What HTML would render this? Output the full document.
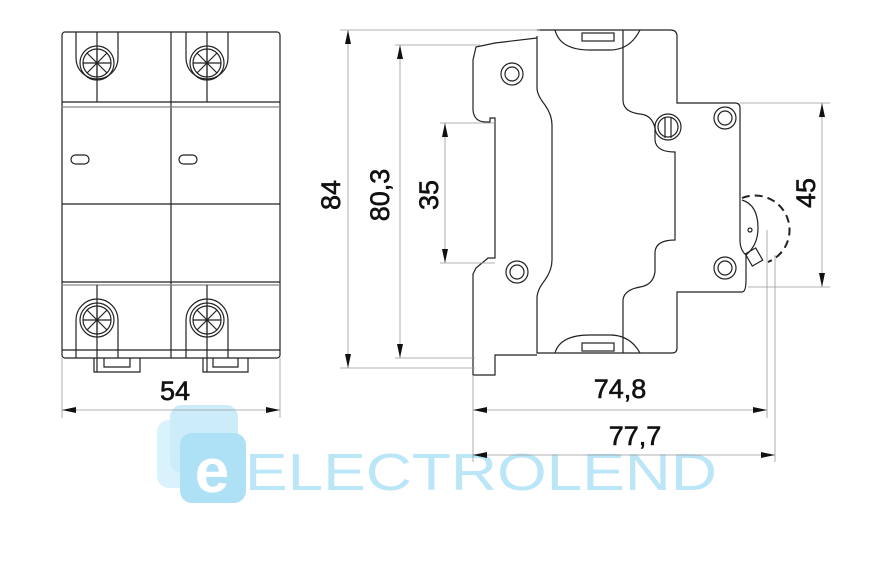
<!DOCTYPE html>
<html><head><style>
html,body{margin:0;padding:0;background:#fff;width:875px;height:576px;overflow:hidden}
svg{display:block}
text{font-family:"Liberation Sans",sans-serif}
</style></head><body>
<svg width="875" height="576" viewBox="0 0 875 576">
<!-- logo -->
<g opacity="0.9">
<rect x="157" y="420" width="68" height="68" rx="12" fill="#d6f1fc"/>
<rect x="170" y="405" width="68" height="68" rx="12" fill="#c8ebfa"/>
<rect x="180" y="433" width="66" height="70" rx="12" fill="#a6def5"/>
<text x="212" y="492" font-size="62" fill="#fff" text-anchor="middle" font-weight="bold">e</text>
<text x="245" y="490" font-size="52" fill="#b3e4f7" textLength="472" lengthAdjust="spacingAndGlyphs">ELECTROLEND</text>
</g>
<g stroke="#222" stroke-width="1.2" fill="none">
<!-- LEFT FRONT VIEW -->
<rect x="62" y="32" width="218" height="326" rx="3"/>
<line x1="171" y1="32" x2="171" y2="358"/>
<line x1="62" y1="102" x2="280" y2="102"/>
<line x1="62" y1="107" x2="280" y2="107" stroke="#888"/>
<line x1="62" y1="204" x2="280" y2="204"/>
<line x1="62" y1="282" x2="280" y2="282"/>
<line x1="62" y1="285" x2="280" y2="285" stroke="#888"/>
<line x1="62" y1="350" x2="280" y2="350"/>
<rect x="71" y="155" width="18" height="9" rx="4.5"/>
<rect x="179" y="155" width="18" height="9" rx="4.5"/>
<path d="M76 32 V58 A21 21 0 0 0 118 58 V32"/>
<path d="M186 32 V58 A21 21 0 0 0 228 58 V32"/>
<path d="M76 358 V320 A21 21 0 0 1 118 320 V358"/>
<path d="M186 358 V320 A21 21 0 0 1 228 320 V358"/>
<line x1="97" y1="32" x2="97" y2="102"/><line x1="207" y1="32" x2="207" y2="102"/>
<line x1="97" y1="285" x2="97" y2="372"/><line x1="207" y1="285" x2="207" y2="372"/>
<g id="s"><circle cx="97" cy="63" r="17"/><circle cx="97" cy="63" r="14"/>
<path d="M83 63H111M97 49V77M87 53L107 73M107 53L87 73"/></g>
<use href="#s" x="110"/><use href="#s" y="257"/><use href="#s" x="110" y="257"/>
<path d="M94 358V372H140V358M104 358V367H130V358"/>
<path d="M203 358V372H248V358M213 358V367H238V358"/>
<!-- SIDE VIEW -->
<path d="M537 38 L495 43 L476 47 L473 60 L473 110 Q474 122 486 122 L490 122 L490 118 L495 118 L495 258 L488 258 L476 268 L473 274 L473 375 L495 375 L495 355 L537 355"/>
<path d="M537 36 V88 Q537 95 545 105 Q552 115 552 125 V260 Q552 270 545 280 Q537 290 537 298 V353 H672 Q677 353 677 348 V292 H742 Q746 292 746 280 V255 Q740 250 740 240 V108 Q740 103 735 103 H677 V36 Q677 30 670 30 H537"/>
<path d="M623 30 V100 Q623 112 640 114 Q652 115 655 128 V140 Q656 152 675 152 V240 Q656 240 655 252 V272 Q653 285 640 287 Q624 290 623 300 V353"/>
<path d="M555 30 Q560 50 590 50 H610 Q630 50 640 30"/>
<rect x="582" y="33" width="32" height="8"/>
<path d="M555 353 Q560 335 590 335 H610 Q630 335 640 353"/>
<rect x="582" y="343" width="32" height="8"/>
<circle cx="512" cy="74" r="11"/><circle cx="512" cy="74" r="7"/>
<circle cx="517" cy="272" r="11"/><circle cx="517" cy="272" r="7"/>
<circle cx="725" cy="118" r="11"/><circle cx="725" cy="118" r="7"/>
<circle cx="725" cy="268" r="11"/><circle cx="725" cy="268" r="7"/>
<circle cx="668" cy="127" r="13"/><circle cx="668" cy="127" r="10"/>
<line x1="665" y1="118" x2="665" y2="138"/><line x1="671" y1="118" x2="671" y2="138"/>
<path d="M742 200 Q758 205 758 228 Q758 245 746 255" />
<circle cx="750" cy="230" r="2"/>
<rect x="748" y="250" width="12" height="14" transform="rotate(-30 754 257)"/>
<path d="M742 198 A32 32 0 0 1 768 262" stroke-dasharray="8,5" stroke-width="2"/>
</g>
<g stroke="#999" stroke-width="0.8" fill="none">
<line x1="62" y1="358" x2="62" y2="418"/><line x1="280" y1="358" x2="280" y2="418"/>
<line x1="62" y1="410" x2="280" y2="410"/>
<line x1="340" y1="30" x2="540" y2="30"/><line x1="340" y1="368" x2="475" y2="368"/>
<line x1="348" y1="30" x2="348" y2="368"/>
<line x1="395" y1="45" x2="480" y2="45"/><line x1="395" y1="358" x2="475" y2="358"/>
<line x1="400" y1="45" x2="400" y2="358"/>
<line x1="440" y1="123" x2="495" y2="123"/><line x1="440" y1="263" x2="495" y2="263"/>
<line x1="445" y1="123" x2="445" y2="263"/>
<line x1="740" y1="103" x2="830" y2="103"/><line x1="748" y1="287" x2="830" y2="287"/>
<line x1="822" y1="103" x2="822" y2="287"/>
<line x1="473" y1="375" x2="473" y2="462"/>
<line x1="767" y1="230" x2="767" y2="418"/><line x1="775" y1="255" x2="775" y2="462"/>
<line x1="473" y1="410" x2="767" y2="410"/>
<line x1="473" y1="455" x2="775" y2="455"/>
</g>
<g fill="#111">
<path d="M62 410l14-3v6z"/><path d="M280 410l-14-3v6z"/>
<path d="M348 30l-3 14h6z"/><path d="M348 368l-3-14h6z"/>
<path d="M400 45l-3 14h6z"/><path d="M400 358l-3-14h6z"/>
<path d="M445 123l-3 14h6z"/><path d="M445 263l-3-14h6z"/>
<path d="M822 103l-3 14h6z"/><path d="M822 287l-3-14h6z"/>
<path d="M473 410l14-3v6z"/><path d="M767 410l-14-3v6z"/>
<path d="M473 455l14-3v6z"/><path d="M775 455l-14-3v6z"/>
</g>
<g font-size="27" fill="#111" stroke="#111" stroke-width="0.6">
<text x="175" y="400" text-anchor="middle">54</text>
<text x="620" y="398" text-anchor="middle">74,8</text>
<text x="635" y="445" text-anchor="middle">77,7</text>
<text transform="translate(340 195) rotate(-90)" text-anchor="middle">84</text>
<text transform="translate(389 195) rotate(-90)" text-anchor="middle">80,3</text>
<text transform="translate(438 195) rotate(-90)" text-anchor="middle">35</text>
<text transform="translate(815 193) rotate(-90)" text-anchor="middle">45</text>
</g>
</svg>
</body></html>
